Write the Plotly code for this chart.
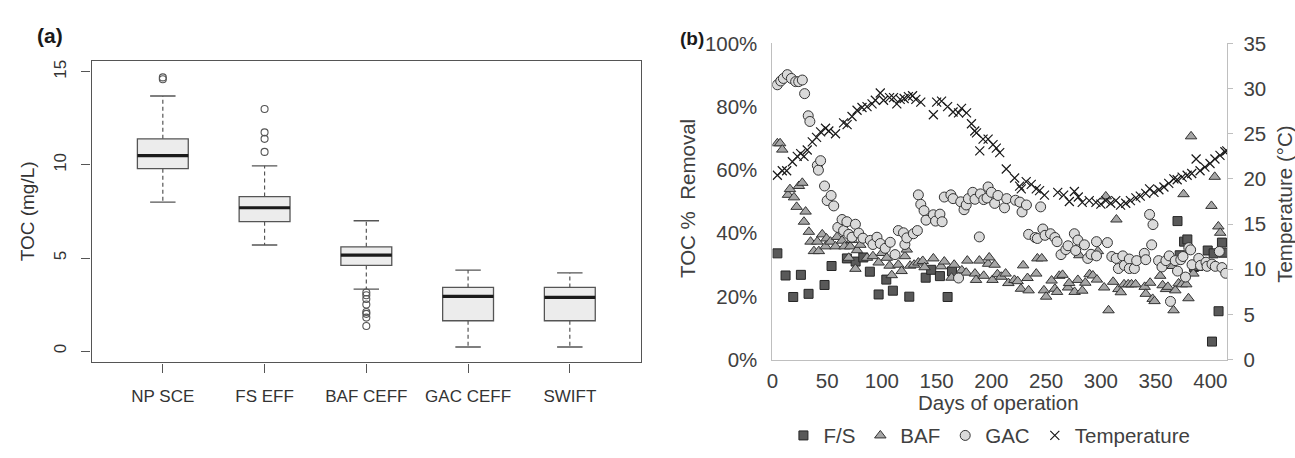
import plotly.graph_objects as go

# ---------------- Panel (a) data: TOC box plot ----------------
cats = ["NP SCE", "FS EFF", "BAF CEFF", "GAC CEFF", "SWIFT"]
box_lower = [8.0, 5.7, 3.33, 0.22, 0.22]
box_q1 = [9.8, 6.95, 4.6, 1.63, 1.63]
box_median = [10.5, 7.7, 5.15, 2.94, 2.89]
box_q3 = [11.4, 8.3, 5.6, 3.42, 3.42]
box_upper = [13.7, 9.95, 7.0, 4.35, 4.2]
outlier_cat = [0, 0, 1, 1, 1, 1, 2, 2, 2, 2, 2, 2, 2, 2]
outlier_val = [14.6, 14.7, 13.0, 11.75, 11.4, 10.7, 3.15, 3.0, 2.8, 2.5, 2.1, 2.0, 1.8, 1.35]

# ---------------- Panel (b) data: TOC % removal and temperature ----------------
fs_day = [4.5, 12, 19, 26, 33, 47.6, 54, 68, 76, 83, 89, 97, 104, 110, 125, 140, 145, 153, 160, 164,
          370, 372, 376, 379, 385, 389, 397.6, 401.5, 403, 407.5, 410.6, 412]
fs_pct = [33.6, 26.6, 19.8, 26.8, 20.8, 23.6, 29.6, 32.0, 31.0, 32.3, 27.8, 20.6, 25.3, 21.8, 19.9, 25.9, 28.4, 26.4, 19.8, 27.9,
          43.8, 33.0, 37.3, 38.0, 29.3, 29.6, 34.5, 5.7, 33.6, 15.3, 37.0, 33.8]

baf_day = [4.5, 7, 9, 14.2, 16, 19.7, 22.1, 24.2, 27.3, 28.8, 30.3, 33.3, 34.8, 37.9, 41, 42.4, 45.5, 48.5, 49.4, 53,
           57.6, 59, 63.6, 65.8, 69.7, 71, 72.7, 75.8, 77.3, 80.3, 86.4, 91.8, 97, 100, 104.5, 107, 109, 115, 118, 121,
           122.7, 125.8, 129.4, 133.3, 137.3,
           139, 147, 154, 157, 163.6, 166, 173, 177, 178, 185, 186, 189, 193, 197, 198, 201, 203, 205.5, 209, 213,
           215.5, 221, 224, 227, 229, 233, 234, 241, 242, 246, 248, 250, 255, 258, 260, 262, 265, 270, 271, 276, 279,
           280.3, 283, 285.8, 289.7, 292.7, 296.4, 297.3, 303, 304.5, 307, 311.2, 314.2, 316, 318.2, 321.2, 325, 328,
           331.7, 340, 341, 345, 347.3, 349, 354.2, 356.4, 359.5, 361.2, 365.5, 366.4, 368, 371, 374, 375.5, 378, 380,
           382.4, 384.5, 401, 404, 407.3, 409]
baf_pct = [68.4, 68.4, 66.4, 52.1, 53.9, 51.3, 48.3, 54.9, 55.9, 43.6, 46.8, 40.4, 37.3, 34.3, 37.3, 34.3, 39.6, 35.8, 38.3, 37.3,
           35.8, 38.8, 37.6, 35.8, 32.2, 35.8, 37.8, 28.7, 34.6, 36.3, 32.2, 32.7, 30.7, 33.7, 32.2, 29.7, 26.7, 30.0, 28.0, 32.7,
           34.8, 29.7, 30.0, 30.7, 31.2,
           29.2, 32.0, 29.5, 31.0, 25.9, 30.0, 28.2, 27.5, 31.3, 27.2, 25.2, 31.3, 26.5, 30.3, 32.3, 25.2, 30.0, 27.0, 26.2, 27.2,
           24.2, 25.2, 24.8, 22.4, 29.8, 25.8, 21.9, 27.2, 32.0, 32.0, 21.9, 19.9, 25.0, 22.4, 21.4, 26.5, 26.8, 22.8, 24.2, 21.4, 25.2,
           33.0, 21.8, 24.3, 27.0, 26.6, 25.3, 34.3, 22.8, 51.6, 15.6, 24.6, 44.3, 22.3, 21.3, 23.8, 23.8, 23.8,
           23.8, 23.0, 20.8, 24.3, 19.2, 18.5, 26.5, 23.5, 22.3, 23.0, 29.6, 15.6, 21.9, 24.1, 23.8, 52.3, 23.8, 19.4,
           70.6, 27.2, 48.6, 57.8, 42.1, 40.1]

gac_day = [4.5, 7.6, 10, 13.6, 17.3, 21.2, 24, 27.3, 29.4, 32.7, 34.2, 41, 42, 44, 47.6, 50, 53.6, 56, 59.7, 63.6,
           65, 68, 69.7, 72.7, 75.8, 78.8, 82.7, 89.4, 91.8, 95.5, 98.5, 103, 107.6, 112, 115, 119.7, 121, 122.7, 128.8, 132.4,
           133.3, 135.5, 138.5, 140.3,
           147, 149, 153, 155, 157, 163, 165, 170, 172, 175, 177, 179, 183, 185, 189, 190, 193, 196, 197, 200,
           203, 206, 212, 214, 222, 226, 228, 232, 234, 240, 242, 245, 247, 249, 254, 258, 260, 263.6, 268, 270,
           275.8, 277, 279,
           285, 288, 291, 296, 296, 306, 310, 314, 316, 320, 321.5, 326, 326, 330.6, 332.7, 339.7, 341, 344.5, 346.4, 347.6,
           352.7, 355.8, 359.4, 362.4, 363.6, 367.9, 370, 373, 375, 377.3, 380.3, 382, 383.3, 389.4, 391, 396, 397, 401.5,
           404.5, 408.2, 410.6, 414]
gac_pct = [86.9, 88.1, 88.9, 90.1, 88.9, 87.9, 87.9, 88.4, 84.1, 77.1, 75.3, 61.4, 59.9, 62.9, 54.9, 50.3, 51.9, 48.6, 41.8, 44.3,
           40.8, 43.6, 39.6, 38.7, 42.8, 40.0, 38.4, 37.7, 36.4, 38.7, 36.7, 35.2, 37.1, 33.2, 40.8, 40.1, 36.4, 38.5, 39.8, 40.8,
           52.1, 49.1, 47.1, 44.1,
           45.8, 43.8, 46.0, 43.6, 51.4, 52.1, 50.9, 25.8, 49.9, 47.4, 48.9, 50.9, 52.9, 50.7, 38.8, 52.4, 50.6, 51.1, 54.6, 52.9,
           49.4, 51.9, 48.0, 50.9, 50.4, 49.8, 46.7, 48.9, 39.6, 38.6, 38.3, 48.3, 41.3, 39.3, 39.8, 38.6, 37.3, 33.2, 34.8, 36.0,
           39.8, 34.5, 37.8,
           36.3, 32.0, 33.3, 32.8, 37.3, 37.0, 32.6, 32.0, 28.8, 32.8, 29.8, 31.8, 28.8, 28.8, 31.3, 33.6, 31.6, 45.9, 36.3, 42.7,
           31.3, 29.3, 31.3, 32.8, 18.4, 31.3, 28.0, 31.6, 32.6, 26.1, 35.4, 34.7, 30.0, 32.0, 29.8, 30.8, 29.5, 30.2,
           29.5, 34.2, 29.1, 27.3]

temp_day = [4.5, 9, 13, 18.2, 22.7, 25.8, 28.8, 31.8, 36.4, 40.3, 44, 48.5, 51.5, 57.6, 65, 68.2, 72.7, 77.3, 81.8, 86.4,
            91, 94, 98.5, 101.5, 107, 110.6, 113.6, 116.7, 120.3, 124.2, 128, 131, 135.5,
            147, 150, 154.5, 160, 165, 170, 172.7, 177.3, 181.8, 184.8, 186.4, 189.4, 192.4, 197, 201.5, 204.5, 207.6, 213.6,
            221.2, 225.8, 227.3, 231.8, 236.4, 241, 244, 248.5, 260.6, 266, 271.2, 275.8, 279.4,
            283, 289.4, 295.5, 300, 304.5, 309, 313.6, 318, 322.7, 327, 332, 336, 341, 344.5, 348.5, 353, 357.6, 362,
            366.7, 369.7, 374.2, 378.8, 383, 387, 390.6, 395, 399.7, 404.2, 408.8, 413.3, 415]
temp_c = [20.4, 20.9, 20.9, 21.9, 22.5, 22.8, 22.5, 23.2, 24.1, 24.6, 25.2, 25.6, 25.3, 25.0, 26.2, 26.0, 26.9, 27.6, 27.9, 28.0,
          28.3, 28.7, 29.5, 28.7, 29.0, 29.0, 28.3, 28.8, 28.9, 29.1, 29.2, 28.8, 28.5,
          27.1, 28.5, 28.6, 28.0, 27.4, 27.3, 27.8, 27.3, 26.1, 25.3, 25.1, 23.1, 24.4, 24.4, 23.8, 23.4, 22.9, 21.1,
          20.1, 19.2, 18.9, 19.7, 19.4, 18.9, 18.7, 18.2, 18.5, 18.2, 17.5, 18.6, 18.0,
          17.4, 17.6, 17.4, 17.2, 17.6, 17.3, 17.6, 17.1, 17.3, 17.6, 17.9, 18.1, 18.4, 18.9, 18.5, 18.8, 19.1, 19.5,
          20.0, 19.9, 20.2, 20.4, 20.6, 22.2, 20.9, 21.3, 21.7, 22.2, 22.6, 23.0, 23.1]

pct_ticks = [0, 20, 40, 60, 80, 100]
pct_labels = ["0%", "20%", "40%", "60%", "80%", "100%"]
temp_ticks = [0, 5, 10, 15, 20, 25, 30, 35]
day_ticks = [0, 50, 100, 150, 200, 250, 300, 350, 400]

FONT = "Liberation Sans, Arial, sans-serif"
A_COL = "#333333"
B_COL = "#404040"
BOX_LINE = "#555555"
BF = 20.5

fig = go.Figure()

# ---- Panel (a) ----
pos = list(range(1, len(cats) + 1))
fig.add_trace(go.Box(
    x=pos, q1=box_q1, median=box_median, q3=box_q3,
    lowerfence=box_q1, upperfence=box_q3,
    width=0.5, whiskerwidth=0, fillcolor="#ececec",
    line=dict(color=BOX_LINE, width=1.3), boxpoints=False,
    xaxis="x", yaxis="y", showlegend=False, hoverinfo="skip"))

wx, wy, cx, cy, mx, my = [], [], [], [], [], []
for p, lo, a, m, b, hi in zip(pos, box_lower, box_q1, box_median, box_q3, box_upper):
    wx += [p, p, None, p, p, None]
    wy += [b, hi, None, a, lo, None]
    cx += [p - 0.125, p + 0.125, None, p - 0.125, p + 0.125, None]
    cy += [hi, hi, None, lo, lo, None]
    mx += [p - 0.25, p + 0.25, None]
    my += [m, m, None]
fig.add_trace(go.Scatter(x=wx, y=wy, mode="lines", line=dict(color=BOX_LINE, width=1.2, dash="4px,3px"),
                         xaxis="x", yaxis="y", showlegend=False, hoverinfo="skip"))
fig.add_trace(go.Scatter(x=cx, y=cy, mode="lines", line=dict(color=BOX_LINE, width=1.3),
                         xaxis="x", yaxis="y", showlegend=False, hoverinfo="skip"))
fig.add_trace(go.Scatter(x=mx, y=my, mode="lines", line=dict(color="#1a1a1a", width=3.2),
                         xaxis="x", yaxis="y", showlegend=False, hoverinfo="skip"))
fig.add_trace(go.Scatter(x=[pos[i] for i in outlier_cat], y=outlier_val, mode="markers",
                         marker=dict(symbol="circle-open", size=7, color=BOX_LINE, line=dict(width=1.1)),
                         xaxis="x", yaxis="y", showlegend=False, hoverinfo="skip"))

# ---- Panel (b) ----
fig.add_trace(go.Scatter(x=fs_day, y=fs_pct, mode="markers", name="F/S",
                         marker=dict(symbol="square", size=9, color="#595959", line=dict(color="#262626", width=1)),
                         xaxis="x2", yaxis="y3"))
fig.add_trace(go.Scatter(x=baf_day, y=baf_pct, mode="markers", name="BAF",
                         marker=dict(symbol="triangle-up", size=10, color="#a6a6a6", line=dict(color="#333333", width=1)),
                         xaxis="x2", yaxis="y3"))
fig.add_trace(go.Scatter(x=gac_day, y=gac_pct, mode="markers", name="GAC",
                         marker=dict(symbol="circle", size=10, color="#dadada", line=dict(color="#333333", width=1)),
                         xaxis="x2", yaxis="y3"))
fig.add_trace(go.Scatter(x=temp_day, y=temp_c, mode="markers", name="Temperature",
                         marker=dict(symbol="x-thin", size=9, color="#1a1a1a", line=dict(color="#1a1a1a", width=1.2)),
                         xaxis="x2", yaxis="y4"))

W, H = 1295, 458
def px_x(v):
    return v / W
def px_y(v):
    return 1 - v / H

fig.update_layout(
    width=W, height=H, margin=dict(l=0, r=0, t=0, b=0),
    paper_bgcolor="white", plot_bgcolor="white",
    font=dict(family=FONT, size=17, color=A_COL),
    xaxis=dict(domain=[px_x(86), px_x(638)], range=[0.3, 5.7], tickvals=pos, ticktext=cats,
               showline=True, mirror=True, linecolor=BOX_LINE, linewidth=1.3,
               ticks="outside", ticklen=9, tickcolor=BOX_LINE, tickwidth=1.2,
               showgrid=False, zeroline=False, anchor="y", ticklabelstandoff=9,
               tickfont=dict(size=17, color=A_COL)),
    yaxis=dict(domain=[px_y(369), px_y(52)], range=[-0.61, 15.56], tickvals=[0, 5, 10, 15],
               showline=True, mirror=True, linecolor=BOX_LINE, linewidth=1.3,
               ticks="outside", ticklen=9, tickcolor=BOX_LINE, tickwidth=1.2, tickangle=-90,
               showgrid=False, zeroline=False, anchor="x", ticklabelstandoff=9,
               tickfont=dict(size=17, color=A_COL)),
    xaxis2=dict(domain=[px_x(770), px_x(1227)], range=[0, 415.5], tickvals=day_ticks,
                showline=True, linecolor="#bfbfbf", linewidth=1, ticks="", showgrid=False, zeroline=False,
                anchor="y3", ticklabelstandoff=3, tickfont=dict(size=BF, color=B_COL)),
    yaxis3=dict(domain=[px_y(366), px_y(33)], range=[0, 100], tickvals=pct_ticks, ticktext=pct_labels,
                showline=True, linecolor="#bfbfbf", linewidth=1, ticks="", showgrid=False, zeroline=False,
                anchor="x2", ticklabelstandoff=10, tickfont=dict(size=BF, color=B_COL)),
    yaxis4=dict(range=[0, 35], tickvals=temp_ticks, overlaying="y3", side="right", anchor="x2",
                showline=True, linecolor="#bfbfbf", linewidth=1, ticks="outside", ticklen=5,
                tickcolor="#bfbfbf", showgrid=False, zeroline=False, ticklabelstandoff=6,
                tickfont=dict(size=BF, color=B_COL)),
    legend=dict(orientation="h", x=px_x(988), xanchor="center", y=px_y(446), yanchor="middle",
                font=dict(size=BF, color=B_COL), bgcolor="rgba(0,0,0,0)", itemwidth=30,
                tracegroupgap=0),
    annotations=[
        dict(text="<b>(a)</b>", x=px_x(29), y=px_y(25), xref="paper", yref="paper", showarrow=False,
             xanchor="left", yanchor="middle", font=dict(size=21, color="#1a1a1a")),
        dict(text="<b>(b)</b>", x=px_x(675), y=px_y(28), xref="paper", yref="paper", showarrow=False,
             xanchor="left", yanchor="middle", font=dict(size=19, color="#1a1a1a")),
        dict(text="TOC (mg/L)", x=px_x(22), y=px_y(210), xref="paper", yref="paper", showarrow=False,
             textangle=-90, xanchor="center", yanchor="middle", font=dict(size=19, color=A_COL)),
        dict(text="TOC %  Removal", x=px_x(684), y=px_y(196), xref="paper", yref="paper", showarrow=False,
             textangle=-90, xanchor="center", yanchor="middle", font=dict(size=BF, color=B_COL)),
        dict(text="Temperature (°C)", x=px_x(1285), y=px_y(203), xref="paper", yref="paper", showarrow=False,
             textangle=-90, xanchor="center", yanchor="middle", font=dict(size=BF, color=B_COL)),
        dict(text="Days of operation", x=px_x(997), y=px_y(411), xref="paper", yref="paper", showarrow=False,
             xanchor="center", yanchor="middle", font=dict(size=BF, color=B_COL)),
    ],
)

fig.write_html("out.html")
